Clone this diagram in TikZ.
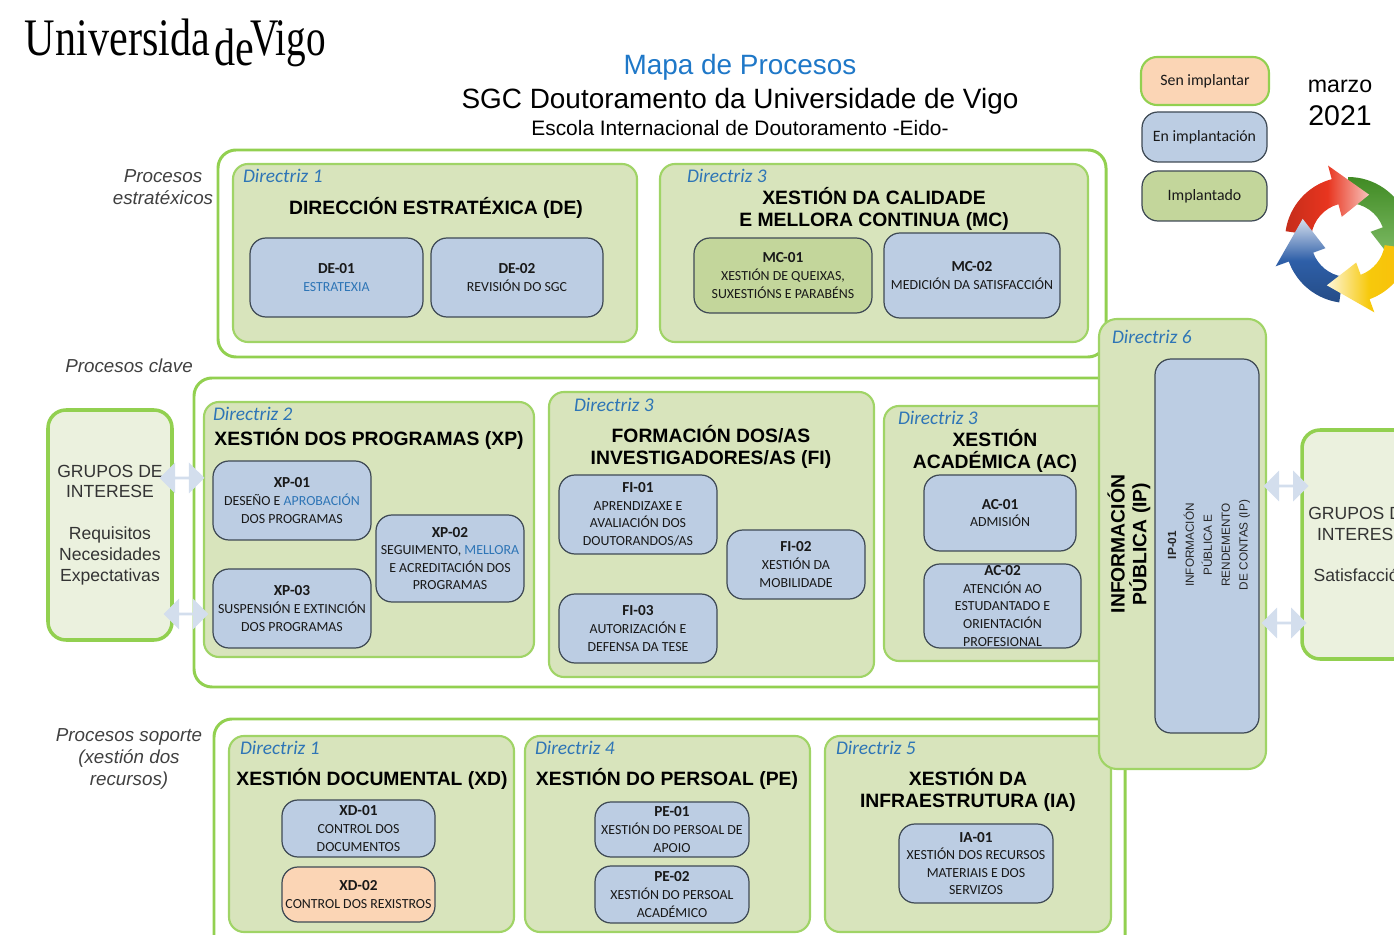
\documentclass[tikz,border=0pt]{standalone}
\usepackage{fontspec}
\setmainfont{Carlito}
\newfontfamily\headfont{Liberation Sans}
\newfontfamily\logofont{Liberation Serif}
\usetikzlibrary{shapes.arrows}
\definecolor{edgegreen}{HTML}{92D050}
\definecolor{panelgreen}{HTML}{D8E4BC}
\definecolor{palegreen}{HTML}{EBF1DE}
\definecolor{donegreen}{HTML}{C3D69B}
\definecolor{procblue}{HTML}{BCCDE3}
\definecolor{todoorange}{HTML}{FBD5B5}
\definecolor{dirblue}{HTML}{2E75B6}
\definecolor{titleblue}{HTML}{1F78C8}
\definecolor{procedge}{HTML}{3F4A55}
\definecolor{arrowblue}{HTML}{D3DEED}
\definecolor{cyclered}{HTML}{E8351F}
\definecolor{cyclegreen}{HTML}{4CA32A}
\definecolor{cycleblue}{HTML}{2E5FA8}
\definecolor{cycleyellow}{HTML}{F7C90C}
\newcommand{\pxu}{.02cm}
\newcommand{\boxat}[7]{\node[#1, minimum width={(#5-#3)*\pxu}, minimum height={(#6-#4)*\pxu}] (#2) at ({(#3+#5)/2}, {(#4+#6)/2}) {#7};}
\newcommand{\cyclearrow}[4]{\shade[#1] (#2:63) arc (#2:#3:63) -- (#3:77) -- (#4:50) -- (#3:24) -- (#3:37) arc (#3:#2:37) -- cycle;}
\tikzstyle{every node}=[inner sep=0, outer sep=0, align=center]
\tikzstyle{outerbox}=[draw=edgegreen, line width=1.7pt, rounded corners=.36cm]
\tikzstyle{panel}=[draw=edgegreen!80!panelgreen, fill=panelgreen, line width=1.2pt, rounded corners=.3cm]
\tikzstyle{proc}=[draw=procedge, line width=.7pt, rounded corners=.32cm, font=\fontsize{7.9}{10}\selectfont, text=black!90]
\tikzstyle{enimpl}=[proc, fill=procblue]
\tikzstyle{senimpl}=[proc, fill=todoorange]
\tikzstyle{implantado}=[proc, fill=donegreen]
\tikzstyle{legendtext}=[font=\fontsize{9}{10}\selectfont]
\tikzstyle{grupos}=[draw=edgegreen, fill=palegreen, line width=2pt, rounded corners=.36cm, font=\headfont\fontsize{10}{11.9}\selectfont, text=black!80]
\tikzstyle{directriz}=[anchor=west, text=dirblue, font=\itshape\fontsize{11}{12}\selectfont]
\tikzstyle{heading}=[font=\headfont\bfseries\fontsize{11}{12.4}\selectfont]
\tikzstyle{grouplabel}=[text=black!75, font=\headfont\itshape\fontsize{10.7}{12.7}\selectfont]
\tikzstyle{biarrow}=[double arrow, fill=arrowblue, minimum height=.9cm, minimum width=.62cm, double arrow head extend=.07cm, double arrow head indent=0cm]
\tikzstyle{logopart}=[anchor=base west, font=\logofont\fontsize{30}{30}\selectfont, xscale=.8]
\newcommand{\idl}[1]{{\bfseries\fontsize{8.7}{10}\selectfont #1}}
\begin{document}
\begin{tikzpicture}[x=.02cm, y=-.02cm]
    \useasboundingbox (0, 0) rectangle (1394, 935);
    \clip (0, 0) rectangle (1394, 935);

    \node[logopart] (logouni) at (25, 56) {Universida};
    \node[logopart] (logode) at (214, 66) {de};
    \node[logopart, xscale=.93] (logovigo) at (250, 56) {Vigo};

    \node[text=titleblue, font=\headfont\fontsize{15.9}{17}\selectfont] (mapa) at (740, 67) {Mapa de Procesos};
    \node[font=\headfont\fontsize{15.9}{17}\selectfont] (sgc) at (740, 101) {SGC Doutoramento da Universidade de Vigo};
    \node[font=\headfont\fontsize{11.9}{13}\selectfont] (eido) at (740, 128) {Escola Internacional de Doutoramento -Eido-};

    \boxat{senimpl, draw=edgegreen, line width=1.2pt, legendtext}{legsen}{1141}{57}{1269}{105}{Sen implantar}
    \boxat{enimpl, legendtext}{legen}{1142}{112}{1267}{162}{En implantación}
    \boxat{implantado, legendtext}{legimpl}{1142}{171}{1267}{221}{Implantado}
    \node[font=\headfont\fontsize{13.2}{15}\selectfont] (marzo) at (1340, 86) {marzo};
    \node[font=\headfont\fontsize{16.2}{18}\selectfont] (anno) at (1340, 116) {2021};

    \begin{scope}[shift={(1348, 240)}, x=.02cm, y=.02cm]
        \cyclearrow{top color=cyclegreen!85!black, bottom color=cyclegreen!70!white}{90}{20}{-25}
        \cyclearrow{left color=cyclered!85!black, right color=cyclered!30!white, middle color=cyclered}{172}{105}{65}
        \cyclearrow{bottom color=cycleblue!80!black, top color=cycleblue!20!white, middle color=cycleblue}{262}{200}{155}
        \cyclearrow{right color=cycleyellow!85!orange, left color=cycleyellow!15!white, middle color=cycleyellow}{352}{290}{245}
    \end{scope}

    \node[grouplabel] (lblestr) at (163, 187) {Procesos\\estratéxicos};
    \node[grouplabel] (lblclave) at (129, 366) {Procesos clave};
    \node[grouplabel] (lblsoporte) at (129, 759) {Procesos soporte\\(xestión dos\\recursos)};

    \boxat{outerbox}{outerestr}{218}{150}{1106}{357}{}
    \boxat{panel}{panelde}{233}{164}{637}{342}{}
    \boxat{panel}{panelmc}{660}{164}{1088}{342}{}
    \node[directriz] (dirde) at (243, 176) {Directriz 1};
    \node[directriz] (dirmc) at (687, 176) {Directriz 3};
    \node[heading] (headde) at (436, 208) {DIRECCIÓN ESTRATÉXICA (DE)};
    \node[heading] (headmc) at (874, 209) {XESTIÓN DA CALIDADE\\E MELLORA CONTINUA (MC)};
    \boxat{enimpl}{de01}{250}{238}{423}{317}{\idl{DE-01}\\\textcolor{dirblue}{ESTRATEXIA}}
    \boxat{enimpl}{de02}{431}{238}{603}{317}{\idl{DE-02}\\REVISIÓN DO SGC}
    \boxat{implantado}{mc01}{694}{238}{872}{313}{\idl{MC-01}\\XESTIÓN DE QUEIXAS,\\SUXESTIÓNS E PARABÉNS}
    \boxat{enimpl}{mc02}{884}{233}{1060}{318}{\idl{MC-02}\\MEDICIÓN DA SATISFACCIÓN}

    \boxat{outerbox}{outerclave}{194}{378}{1130}{687}{}
    \boxat{panel}{panelxp}{204}{402}{534}{657}{}
    \boxat{panel}{panelfi}{549}{392}{874}{677}{}
    \boxat{panel}{panelac}{884}{406}{1125}{661}{}
    \node[directriz] (dirxp) at (213, 414) {Directriz 2};
    \node[directriz] (dirfi) at (574, 405) {Directriz 3};
    \node[directriz] (dirac) at (898, 418) {Directriz 3};
    \node[heading] (headxp) at (369, 439) {XESTIÓN DOS PROGRAMAS (XP)};
    \node[heading] (headfi) at (711, 447) {FORMACIÓN DOS/AS\\INVESTIGADORES/AS (FI)};
    \node[heading] (headac) at (995, 451) {XESTIÓN\\ACADÉMICA (AC)};
    \boxat{enimpl}{xp01}{213}{461}{371}{540}{\idl{XP-01}\\DESEÑO E \textcolor{dirblue}{APROBACIÓN}\\DOS PROGRAMAS}
    \boxat{enimpl}{xp02}{376}{515}{524}{602}{\idl{XP-02}\\SEGUIMENTO, \textcolor{dirblue}{MELLORA}\\E ACREDITACIÓN DOS\\PROGRAMAS}
    \boxat{enimpl}{xp03}{213}{569}{371}{648}{\idl{XP-03}\\SUSPENSIÓN E EXTINCIÓN\\DOS PROGRAMAS}
    \boxat{enimpl}{fi01}{559}{475}{717}{554}{\idl{FI-01}\\APRENDIZAXE E\\AVALIACIÓN DOS\\DOUTORANDOS/AS}
    \boxat{enimpl}{fi02}{727}{530}{865}{599}{\idl{FI-02}\\XESTIÓN DA\\MOBILIDADE}
    \boxat{enimpl}{fi03}{559}{594}{717}{663}{\idl{FI-03}\\AUTORIZACIÓN E\\DEFENSA DA TESE}
    \boxat{enimpl}{ac01}{924}{475}{1076}{551}{\idl{AC-01}\\ADMISIÓN}
    \boxat{enimpl}{ac02}{924}{564}{1081}{648}{\idl{AC-02}\\ATENCIÓN AO\\ESTUDANTADO E\\ORIENTACIÓN\\PROFESIONAL}

    \boxat{outerbox}{outersoporte}{214}{719}{1125}{1000}{}
    \boxat{panel}{panelxd}{229}{736}{514}{932}{}
    \boxat{panel}{panelpe}{525}{736}{810}{932}{}
    \boxat{panel}{panelia}{825}{736}{1111}{932}{}
    \node[directriz] (dirxd) at (240, 748) {Directriz 1};
    \node[directriz] (dirpe) at (535, 748) {Directriz 4};
    \node[directriz] (diria) at (836, 748) {Directriz 5};
    \node[heading] (headxd) at (372, 779) {XESTIÓN DOCUMENTAL (XD)};
    \node[heading] (headpe) at (667, 779) {XESTIÓN DO PERSOAL (PE)};
    \node[heading] (headia) at (968, 790) {XESTIÓN DA\\INFRAESTRUTURA (IA)};
    \boxat{enimpl}{xd01}{282}{800}{435}{857}{\idl{XD-01}\\CONTROL DOS\\DOCUMENTOS}
    \boxat{senimpl}{xd02}{282}{867}{435}{922}{\idl{XD-02}\\CONTROL DOS REXISTROS}
    \boxat{enimpl}{pe01}{595}{802}{749}{857}{\idl{PE-01}\\XESTIÓN DO PERSOAL DE\\APOIO}
    \boxat{enimpl}{pe02}{595}{866}{749}{923}{\idl{PE-02}\\XESTIÓN DO PERSOAL\\ACADÉMICO}
    \boxat{enimpl}{ia01}{899}{824}{1053}{903}{\idl{IA-01}\\XESTIÓN DOS RECURSOS\\MATERIAIS E DOS\\SERVIZOS}

    \boxat{panel, rounded corners=.36cm}{panelip}{1099}{319}{1266}{769}{}
    \node[directriz] (dirip) at (1112, 337) {Directriz 6};
    \node[heading, rotate=90] (headip) at (1129, 544) {INFORMACIÓN\\PÚBLICA (IP)};
    \boxat{enimpl}{ip01}{1155}{359}{1259}{733}{}
    \node[rotate=90, font=\headfont\fontsize{6.7}{10.2}\selectfont, text=black!85] (ip01text) at (1209, 545) {\textbf{IP-01}\\INFORMACIÓN\\PÚBLICA E\\RENDEMENTO\\DE CONTAS (IP)};

    \boxat{grupos}{gruposin}{48}{410}{172}{640}{GRUPOS DE\\INTERESE\\[11.9pt]Requisitos\\Necesidades\\Expectativas}
    \boxat{grupos}{gruposout}{1302}{430}{1420}{659}{GRUPOS DE\\INTERESE\\[11.9pt]Satisfacción}

    \node[biarrow] (flowa) at (182, 478) {};
    \node[biarrow] (flowb) at (186, 614) {};
    \node[biarrow] (flowc) at (1286, 486) {};
    \node[biarrow] (flowd) at (1284, 623) {};
\end{tikzpicture}
\end{document}
